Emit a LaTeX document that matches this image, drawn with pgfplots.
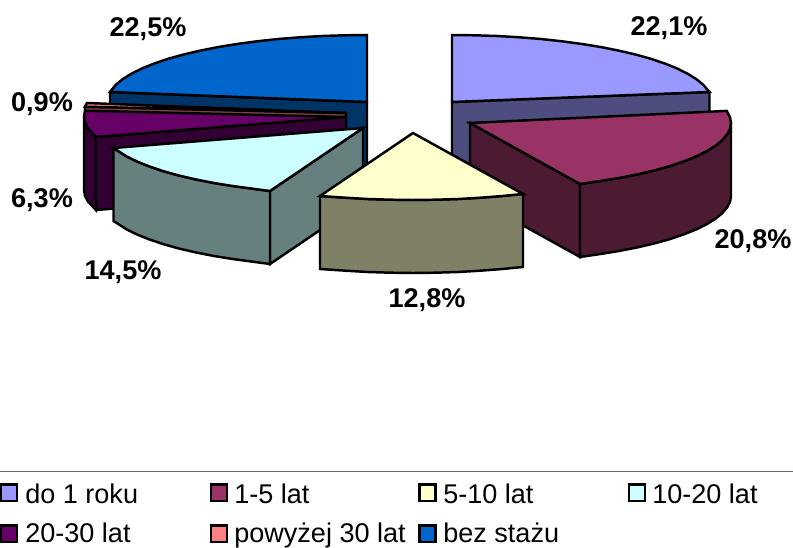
\documentclass[border=0pt]{standalone}
\usepackage{pgfplots}
\pgfplotsset{compat=1.18}
\usepackage{fontspec}
\setmainfont{Liberation Sans}
\definecolor{cA}{HTML}{9999FF}\definecolor{sA}{HTML}{4D4D80}
\definecolor{cB}{HTML}{993366}\definecolor{sB}{HTML}{4D1A33}
\definecolor{cC}{HTML}{FFFFCC}\definecolor{sC}{HTML}{808066}
\definecolor{cD}{HTML}{CCFFFF}\definecolor{sD}{HTML}{668080}
\definecolor{cE}{HTML}{660066}\definecolor{sE}{HTML}{330033}
\definecolor{cF}{HTML}{FF8080}\definecolor{sF}{HTML}{804040}
\definecolor{cG}{HTML}{0066CC}\definecolor{sG}{HTML}{003366}
\tikzset{
  lab/.style={font=\fontsize{20.3}{24}\selectfont\bfseries,inner sep=0pt},
  leg/.style={font=\fontsize{20.3}{24}\selectfont,inner sep=0pt,anchor=base west},
  sw/.style={line width=1.7pt,draw=black}}
\begin{document}
\begin{tikzpicture}[x=1pt,y=1pt]
\path[use as bounding box] (0,0) rectangle (594.75,411);
\begin{axis}[at={(0,0)},anchor=south west,scale only axis,width=594.75pt,height=411pt,
  xmin=0,xmax=793,ymin=0,ymax=548,y dir=reverse,hide axis,clip=false,
  every axis plot/.append style={line width=1.85pt,line join=miter,miter limit=4}]
% bez stazu
\addplot[fill=sG,draw=black] coordinates {(110,92)(367,102)(367,175)(110,165)} -- cycle;
\addplot[fill=cG,draw=black] coordinates {(367,102)(367,35)(344.3,35.3)(321.9,36)(299.7,37.3)(278.1,39)(257.1,41.3)(237,44)(217.9,47.1)(199.9,50.7)(183.2,54.6)(167.8,58.9)(154,63.6)(141.8,68.5)(131.4,73.7)(122.7,79.1)(115.9,84.7)(110,92)} -- cycle;
% do 1 roku
\addplot[fill=sA,draw=black] coordinates {(452,102)(709.5,92)(709.5,165)(452,175)} -- cycle;
\addplot[fill=cA,draw=black] coordinates {(452,102)(452,35)(474.7,35.3)(497.1,36)(519.3,37.3)(540.9,39)(561.9,41.3)(582,44)(601.1,47.1)(619.1,50.7)(635.8,54.6)(651.2,58.9)(665,63.6)(677.2,68.5)(687.6,73.7)(696.3,79.1)(703.1,84.7)(709.5,92)} -- cycle;
% powyzej 30 lat
\addplot[fill=sF,draw=black] coordinates {(346,113)(85,106.7)(85,180)(346,186)} -- cycle;
\addplot[fill=cF,draw=black] coordinates {(346,113)(85,106.7)(87,103)} -- cycle;
% 20-30 lat
\addplot[fill=sE,draw=black] coordinates {(84,117)(85,122.8)(88,128.6)(93,133.8)(96,137)(96,210)(93,206.8)(88,201.6)(85,195.8)(84,190)} -- cycle;
\addplot[fill=sE,draw=black] coordinates {(346,117)(96,137)(96,210)(346,190)} -- cycle;
\addplot[fill=cE,draw=black] coordinates {(346,117)(85,110.7)(84,117)(85,122.8)(88,128.6)(93,133.8)(96,137)} -- cycle;
% 10-20 lat
\addplot[fill=sD,draw=black] coordinates {(363,128)(270,191)(270,264)(363,201)} -- cycle;
\addplot[fill=sD,draw=black] coordinates {(270,191)(252.7,188.7)(232.5,186)(213.3,182.9)(195.2,179.3)(178.4,175.4)(163.1,171.1)(149.2,166.4)(137,161.5)(126.5,156.3)(113.5,148)(113.5,221)(126.5,229.3)(137,234.5)(149.2,239.4)(163.1,244.1)(178.4,248.4)(195.2,252.3)(213.3,255.9)(232.5,259)(252.7,261.7)(270,264)} -- cycle;
\addplot[fill=cD,draw=black] coordinates {(363,128)(270,191)(252.7,188.7)(232.5,186)(213.3,182.9)(195.2,179.3)(178.4,175.4)(163.1,171.1)(149.2,166.4)(137,161.5)(126.5,156.3)(113.5,148)} -- cycle;
% 1-5 lat
\addplot[fill=sB,draw=black] coordinates {(470,123)(580,184)(580,257)(470,196)} -- cycle;
\addplot[fill=sB,draw=black] coordinates {(731,123)(730,128.8)(727,134.6)(722.1,140.3)(715.3,145.9)(706.5,151.3)(696,156.5)(683.8,161.4)(669.9,166.1)(654.6,170.4)(637.8,174.3)(619.7,177.9)(600.5,181)(580,184)(580,257)(600.5,254)(619.7,250.9)(637.8,247.3)(654.6,243.4)(669.9,239.1)(683.8,234.4)(696,229.5)(706.5,224.3)(715.3,218.9)(722.1,213.3)(727,207.6)(730,201.8)(731,196)} -- cycle;
\addplot[fill=cB,draw=black] coordinates {(470,123)(726.7,110.9)(730,117.2)(731,123)(730,128.8)(727,134.6)(722.1,140.3)(715.3,145.9)(706.5,151.3)(696,156.5)(683.8,161.4)(669.9,166.1)(654.6,170.4)(637.8,174.3)(619.7,177.9)(600.5,181)(580,184)} -- cycle;
% 5-10 lat
\addplot[fill=sC,draw=black] coordinates {(523,194)(502.3,196)(480.6,197.7)(458.3,199)(435.8,199.7)(413,200)(390.2,199.7)(367.7,199)(345.4,197.7)(320,196)(320,269)(345.4,270.7)(367.7,272)(390.2,272.7)(413,273)(435.8,272.7)(458.3,272)(480.6,270.7)(502.3,269)(523,267)} -- cycle;
\addplot[fill=cC,draw=black] coordinates {(413,133)(523,194)(502.3,196)(480.6,197.7)(458.3,199)(435.8,199.7)(413,200)(390.2,199.7)(367.7,199)(345.4,197.7)(320,196)} -- cycle;
% data labels
\node[lab] at (axis cs:148,29.5) {22,5\%};
\node[lab] at (axis cs:669,28.5) {22,1\%};
\node[lab] at (axis cs:753,241) {20,8\%};
\node[lab] at (axis cs:427,300.5) {12,8\%};
\node[lab] at (axis cs:123,272) {14,5\%};
\node[lab] at (axis cs:42,200) {6,3\%};
\node[lab] at (axis cs:42,104) {0,9\%};
% legend rule
\addplot[draw=black!60,line width=1pt] coordinates {(0,471.5)(793,471.5)};
% legend swatches
\addplot[sw,fill=cA] coordinates {(1,484.5)(17,484.5)(17,501)(1,501)} -- cycle;
\addplot[sw,fill=cB] coordinates {(211,484.5)(227,484.5)(227,501)(211,501)} -- cycle;
\addplot[sw,fill=cC] coordinates {(419.5,484.5)(435.5,484.5)(435.5,501)(419.5,501)} -- cycle;
\addplot[sw,fill=cD] coordinates {(629,484.5)(645,484.5)(645,501)(629,501)} -- cycle;
\addplot[sw,fill=cE] coordinates {(1,525.5)(17,525.5)(17,542)(1,542)} -- cycle;
\addplot[sw,fill=cF] coordinates {(211,525.5)(227,525.5)(227,542)(211,542)} -- cycle;
\addplot[sw,fill=cG] coordinates {(419.5,525.5)(435.5,525.5)(435.5,542)(419.5,542)} -- cycle;
\node[leg] at (axis cs:25,503.5) {do 1 roku};
\node[leg] at (axis cs:234,503.5) {1-5 lat};
\node[leg] at (axis cs:443,503.5) {5-10 lat};
\node[leg] at (axis cs:652,503.5) {10-20 lat};
\node[leg] at (axis cs:25,542.5) {20-30 lat};
\node[leg] at (axis cs:234,542.5) {powyżej 30 lat};
\node[leg] at (axis cs:443,542.5) {bez stażu};
\end{axis}
\end{tikzpicture}
\end{document}
